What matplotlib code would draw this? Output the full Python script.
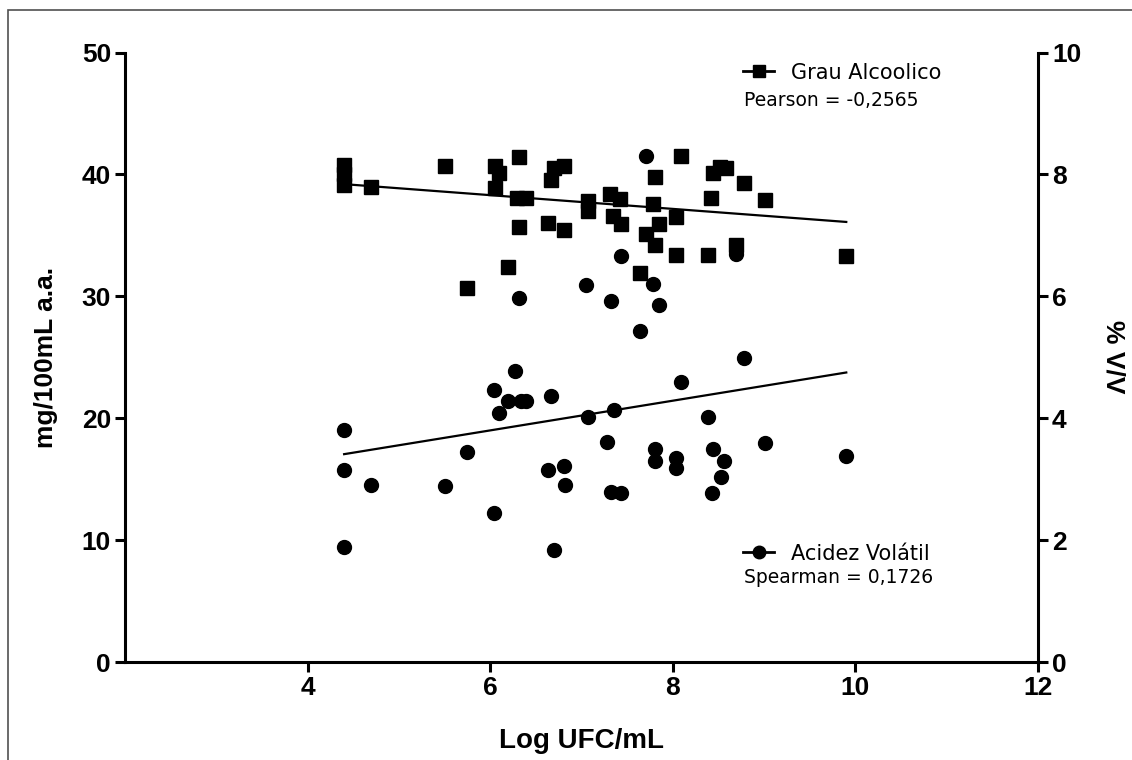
import numpy as np
import matplotlib.pyplot as plt
from matplotlib.lines import Line2D
from matplotlib.patches import Rectangle
from matplotlib.font_manager import FontProperties

plt.rcParams['font.family'] = ['Liberation Sans', 'DejaVu Sans']

# Grau Alcoolico (left axis, mg/100mL a.a.)
grau_x = [4.40, 4.40, 4.40, 4.69, 5.51, 5.75, 6.05, 6.10, 6.05, 6.32, 6.29,
          6.39, 6.31, 6.20, 6.81, 6.70, 6.67, 6.63, 6.81, 7.07, 7.07, 7.31,
          7.42, 7.34, 7.43, 8.09, 7.80, 8.44, 8.52, 8.58, 8.78, 8.42, 9.01,
          7.78, 8.04, 7.85, 7.71, 7.80, 8.04, 8.39, 8.69, 9.90, 7.64]
grau_y = [40.8, 40.0, 39.1, 39.0, 40.7, 30.7, 40.7, 40.1, 38.9, 41.4, 38.1,
          38.1, 35.7, 32.4, 40.7, 40.5, 39.5, 36.0, 35.4, 37.8, 37.0, 38.4,
          38.0, 36.6, 35.9, 41.5, 39.8, 40.1, 40.6, 40.5, 39.3, 38.1, 37.9,
          37.6, 36.5, 35.9, 35.1, 34.2, 33.4, 33.4, 34.2, 33.3, 31.9]

# Acidez Volatil (right axis, % V/V)
acid_x = [4.40, 4.40, 4.40, 4.69, 5.50, 5.75, 6.04, 6.27, 6.20, 6.34, 6.39,
          6.10, 6.04, 6.67, 6.63, 6.81, 6.82, 6.70, 7.07, 7.36, 7.28, 7.32,
          7.43, 8.78, 8.09, 8.39, 7.80, 7.80, 8.04, 8.04, 8.44, 8.56, 8.53,
          8.43, 9.01, 9.90, 7.71, 8.69, 7.43, 7.78, 7.32, 7.85, 7.64, 7.05,
          6.31]
acid_y = [3.81, 3.15, 1.89, 2.90, 2.89, 3.45, 4.47, 4.78, 4.29, 4.29, 4.29,
          4.09, 2.44, 4.36, 3.15, 3.22, 2.90, 1.84, 4.02, 4.13, 3.61, 2.79,
          2.77, 4.99, 4.59, 4.02, 3.49, 3.30, 3.34, 3.19, 3.50, 3.30, 3.04,
          2.77, 3.59, 3.38, 8.30, 6.70, 6.66, 6.20, 5.92, 5.85, 5.43, 6.18,
          5.98]

# fitted lines
fit_x = [4.4, 9.9]
grau_fit = [39.2, 36.1]
acid_fit = [3.41, 4.75]

fig = plt.figure(figsize=(11.32, 7.6), dpi=100)
fig.patches.append(Rectangle((8 / 1132, -0.01), 1.1, 750 / 760 + 0.01,
                             transform=fig.transFigure, fill=False,
                             edgecolor='#505050', lw=1.2))

ax = fig.add_axes([125 / 1132, 98 / 760, 913 / 1132, 609.5 / 760])
ax2 = ax.twinx()

ax.plot(grau_x, grau_y, ls='none', marker='s', ms=10.5, color='black', clip_on=False)
ax.plot(fit_x, grau_fit, color='black', lw=1.6)
ax2.plot(acid_x, acid_y, ls='none', marker='o', ms=10, color='black', clip_on=False)
ax2.plot(fit_x, acid_fit, color='black', lw=1.6)

ax.set_xlim(2, 12)
ax.set_ylim(0, 50)
ax2.set_ylim(0, 10)
ax.set_xticks([4, 6, 8, 10, 12])
ax.set_yticks([0, 10, 20, 30, 40, 50])
ax2.set_yticks([0, 2, 4, 6, 8, 10])

bold = FontProperties(family='Liberation Sans', weight='bold', size=19)
for a in (ax, ax2):
    for s in a.spines.values():
        s.set_linewidth(2.2)
    a.tick_params(width=2.2, length=7, direction='out', pad=3)
    for lab in a.get_xticklabels() + a.get_yticklabels():
        lab.set_fontproperties(bold)
ax.spines['top'].set_visible(False)
ax.spines['right'].set_visible(False)
ax2.spines['top'].set_visible(False)
ax2.spines['left'].set_visible(False)
ax2.spines['bottom'].set_visible(False)

ax.set_xlabel('Log UFC/mL', fontproperties=FontProperties(family='Liberation Sans', weight='bold', size=20), labelpad=20)
ax.set_ylabel('mg/100mL a.a.', fontproperties=bold, labelpad=17)
ax2.set_ylabel('% V/V', fontproperties=bold, rotation=-90, labelpad=32)

h1 = Line2D([], [], color='black', lw=2, marker='s', ms=9)
h2 = Line2D([], [], color='black', lw=2, marker='o', ms=9)
leg_font = FontProperties(family='DejaVu Sans', size=15)
small_font = FontProperties(family='DejaVu Sans', size=13.5)
leg1 = ax.legend([h1], ['Grau Alcoolico'], loc='center left', frameon=False,
                 bbox_to_anchor=(0.677, 0.967), prop=leg_font, handlelength=1.5,
                 handletextpad=0.8, borderpad=0, borderaxespad=0)
ax.add_artist(leg1)
ax.legend([h2], ['Acidez Volátil'], loc='center left', frameon=False,
          bbox_to_anchor=(0.677, 0.178), prop=leg_font, handlelength=1.5,
          handletextpad=0.8, borderpad=0, borderaxespad=0)
ax.text(0.678, 0.922, 'Pearson = -0,2565', transform=ax.transAxes,
        fontproperties=small_font, va='center', ha='left')
ax.text(0.678, 0.138, 'Spearman = 0,1726', transform=ax.transAxes,
        fontproperties=small_font, va='center', ha='left')

plt.savefig('out.png', dpi=100)
